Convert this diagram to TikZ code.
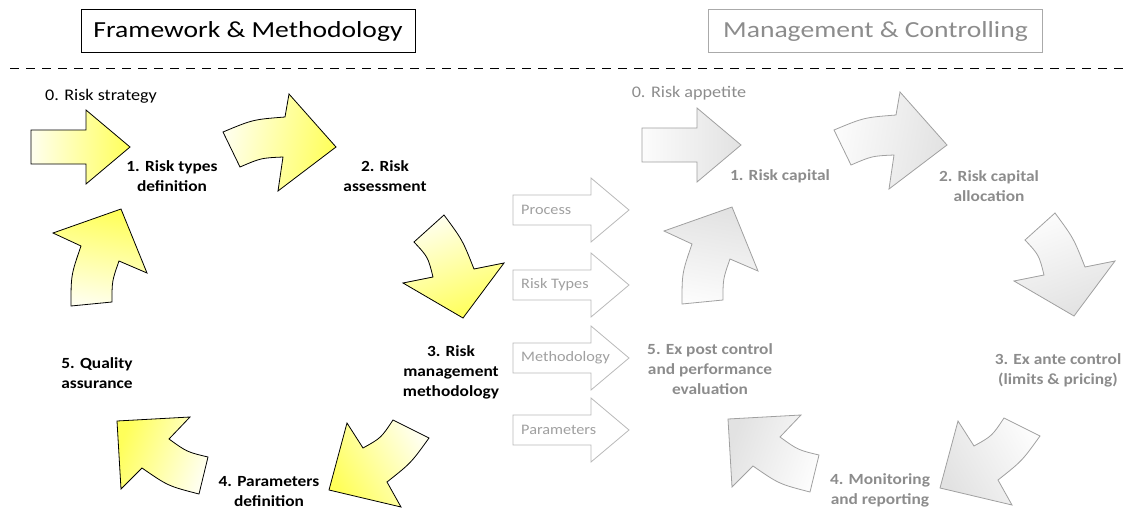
\documentclass[tikz,border=0pt]{standalone}
\usepackage{fontspec}
\setmainfont{Carlito}[FakeStretch=1.12]
\newfontfamily\titlefont{Carlito}[FakeStretch=1.2]
\definecolor{ydark}{RGB}{255,255,90}
\definecolor{ylight}{RGB}{255,255,238}
\definecolor{gdark}{RGB}{226,226,226}
\definecolor{glight}{RGB}{252,252,252}
\definecolor{gline}{RGB}{160,160,160}
\definecolor{gtext}{RGB}{140,140,140}
\definecolor{sline}{RGB}{185,185,185}
\definecolor{stext}{RGB}{160,160,160}
\definecolor{tbox}{RGB}{170,170,170}
\tikzset{
  yarrow/.style={draw=black, line width=0.8pt, top color=ydark, bottom color=ylight, shading angle=#1},
  garrow/.style={draw=gline, line width=0.8pt, top color=gdark, bottom color=glight, shading angle=#1},
  lbl/.style={align=center, font=\fontsize{15.5}{20}\selectfont\bfseries, inner sep=0pt},
  lblzero/.style={align=center, font=\fontsize{16.2}{20}\selectfont, inner sep=0pt},
  sarrow/.style={draw=sline, line width=0.8pt, fill=white},
  stxt/.style={font=\fontsize{14.5}{16}\selectfont, text=stext, anchor=west, inner sep=0pt},
  titlebox/.style={draw, line width=0.9pt, minimum width=334pt, minimum height=43pt, font=\titlefont\fontsize{23}{26}\selectfont, inner sep=0pt}
}
\newcommand{\drawcycle}[1]{%
 \path[#1=-90] (31,130) -- (86,130) -- (86,110) -- (130,147) -- (86,184) -- (86,164) -- (31,164) -- cycle;
 \path[#1=-100] (223,132) .. controls (253,119.5) .. (285,117) -- (289,94) -- (336,147) -- (278,191) -- (283,157) .. controls (261,158) .. (240,167) -- cycle;
 \path[#1=-160] (414,242) -- (444,215) .. controls (462.5,240) .. (474,269) -- (504,263) -- (463,318) -- (403,283) -- (433,277) .. controls (428,257) .. (414,242) -- cycle;
 \path[#1=120] (393,420) -- (429,438) .. controls (411,463) .. (387,482) -- (401,507) -- (329,490) -- (347,423) -- (363,448) .. controls (381,438) .. (393,420) -- cycle;
 \path[#1=70] (117,421) -- (190,417) -- (169,439) .. controls (187,452) .. (208,457) -- (199,494) .. controls (168,486) .. (142,468) -- (121,489) -- cycle;
 \path[#1=-10] (71,306) .. controls (71,275) .. (81,246) -- (53,233) -- (121,209) -- (147,273) -- (119,261) .. controls (112,281) .. (112,302) -- cycle;
}
\newcommand{\smallarrow}[3]{% #1 name, #2 tip y, #3 text
 \path[sarrow] (513,#2-15) -- (591,#2-15) -- (591,#2-32) -- (629,#2) -- (591,#2+32) -- (591,#2+15) -- (513,#2+15) -- cycle;
 \node[stxt] (#1) at (521,#2) {#3};
}
\begin{document}
\begin{tikzpicture}[x=1pt,y=-1pt]
\useasboundingbox (0,0) rectangle (1125,509);
% titles
\node[titlebox] (tfm) at (248,31) {Framework \& Methodology};
\node[titlebox, draw=tbox, text=gtext] (tmc) at (875.5,31) {Management \& Controlling};
\coordinate (dl) at (10,68);
\coordinate (dr) at (1125,68);
\draw[line width=0.9pt, dash pattern=on 8.5pt off 7.5pt] (dl) -- (dr);
% left cycle
\drawcycle{yarrow}
\node[lblzero] (l0) at (101,96) {0. Risk strategy};
\node[lbl] (l1) at (172,176) {1. Risk types\\definition};
\node[lbl] (l2) at (385,176) {2. Risk\\assessment};
\node[lbl] (l3) at (451,372) {3. Risk\\management\\methodology};
\node[lbl] (l4) at (269,491.5) {4. Parameters\\definition};
\node[lbl] (l5) at (97,373) {5. Quality\\assurance};
% middle arrows
\smallarrow{sp}{210}{Process}
\smallarrow{sr}{285}{Risk Types}
\smallarrow{sm}{358}{Methodology}
\smallarrow{spa}{430}{Parameters}
% right cycle
\begin{scope}[shift={(611,-2)}]
\drawcycle{garrow}
\end{scope}
\node[lblzero, text=gtext] (r0) at (689,93) {0. Risk appetite};
\node[lbl, text=gtext] (r1) at (780,176) {1. Risk capital};
\node[lbl, text=gtext] (r2) at (989,186) {2. Risk capital\\allocation};
\node[lbl, text=gtext] (r3) at (1058,370) {3. Ex ante control\\(limits \& pricing)};
\node[lbl, text=gtext] (r4) at (880,490) {4. Monitoring\\and reporting};
\node[lbl, text=gtext] (r5) at (710,369) {5. Ex post control\\and performance\\evaluation};
\end{tikzpicture}
\end{document}
